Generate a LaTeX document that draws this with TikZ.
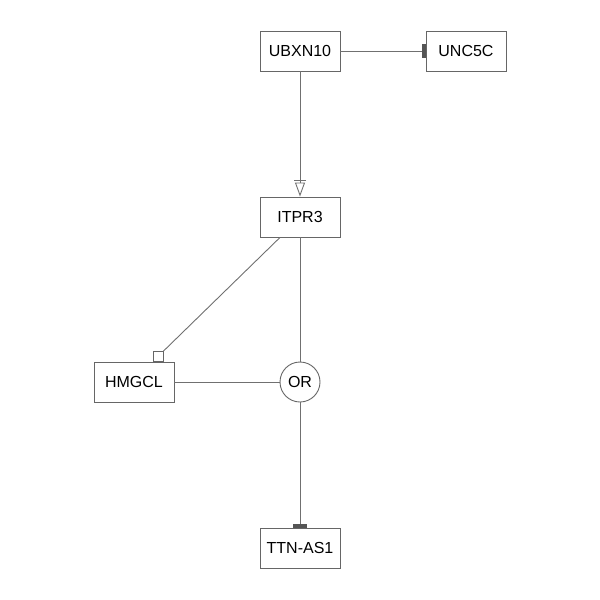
\documentclass[tikz,border=0pt]{standalone}
\usepackage{fontspec}
\setmainfont{Liberation Sans}
\usetikzlibrary{arrows.meta}

\definecolor{edgegray}{HTML}{707070}
\definecolor{boxgray}{HTML}{666666}
\definecolor{bargray}{HTML}{555555}

\begin{document}
\begin{tikzpicture}[x=1pt, y=-1pt, semithick,
        gene/.style={draw=boxgray, line width=0.9pt, minimum width=80pt, minimum height=40pt, inner sep=0pt, font=\fontsize{16}{18}\selectfont},
        gate/.style={draw=boxgray, line width=0.9pt, circle, minimum size=40pt, inner sep=0pt, font=\fontsize{16}{18}\selectfont},
        edge/.style={draw=edgegray, line width=0.9pt},
        inhibit/.style={edge, -{Bar[width=14pt, line width=4pt, color=bargray]}},
        stimulate/.style={edge, -{Bar[width=12pt, line width=0.9pt, sep=2pt] Triangle[open, length=14pt, width=10pt, fill=white]}}]
    \useasboundingbox (0, 0) rectangle (600, 600);

    \node[gene] (ubxn) at (300, 51) {UBXN10};
    \node[gene] (unc) at (466, 51) {UNC5C};
    \node[gene] (itpr) at (300, 217) {ITPR3};
    \node[gene] (hmgcl) at (134, 382) {HMGCL};
    \node[gate] (or) at (300, 382) {OR};
    \node[gene] (ttn) at (300, 548) {TTN-AS1};
    \node[draw=boxgray, line width=0.9pt, minimum size=10pt, inner sep=0pt, anchor=south] (port) at (158, 362) {};

    \draw[inhibit] (ubxn.east) -- (unc.west);
    \draw[stimulate] (ubxn.south) -- (itpr.north);
    \draw[edge] (itpr.south) ++(-20, 0) coordinate (itprout) -- (port.north east);
    \draw[edge] (hmgcl.east) -- (or.west);
    \draw[edge] (itpr.south) -- (or.north);
    \draw[inhibit] (or.south) -- (ttn.north);
\end{tikzpicture}
\end{document}
